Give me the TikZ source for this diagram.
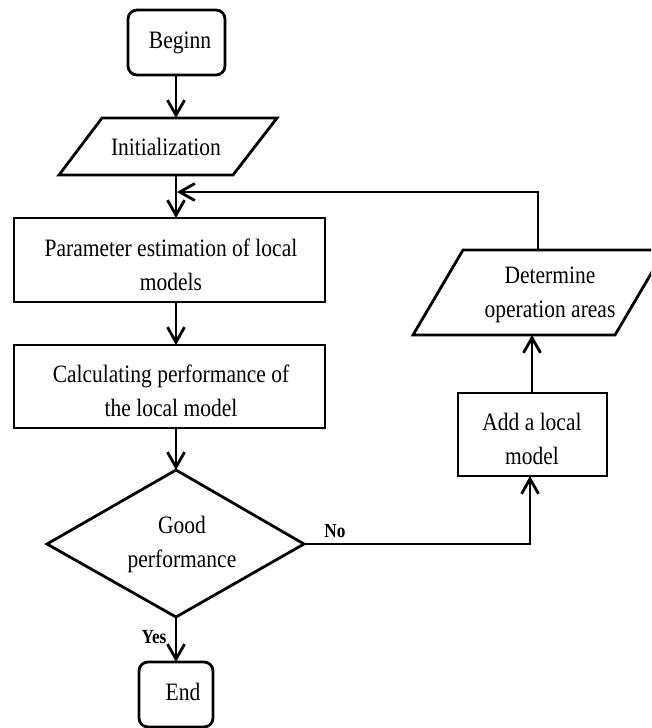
\documentclass[tikz,border=0pt]{standalone}
\usepackage{fontspec}
\setmainfont{Liberation Serif}[FakeStretch=0.86]
\usetikzlibrary{arrows.meta}
\begin{document}
\begin{tikzpicture}[x=1pt,y=-1pt,
  line width=2.8pt,
  arr/.style={-{Straight Barb[length=15pt,width=17pt,line width=2.8pt]}},
  lbl/.style={font=\fontsize{25}{34}\selectfont, align=center, inner sep=0pt},
  yn/.style={font=\fontsize{20}{24}\selectfont\bfseries, inner sep=0pt, anchor=base},
  shp/.style={draw, line width=2.8pt, line join=miter}]
\useasboundingbox (0,0) rectangle (651,728);
\clip (0,0) rectangle (651,728);
% Begin
\draw[shp, rounded corners=9pt] (128,10) rectangle (225,75);
\node[lbl] (begin) at (180,43) {Beginn};
\coordinate (beginS) at (176,75);
% Initialization
\draw[shp] (102,118) -- (277,118) -- (233,175) -- (59,175) -- cycle;
\node[lbl] (init) at (166,147) {Initialization};
\coordinate (initN) at (176,118);
\coordinate (initS) at (176,175);
% Parameter estimation
\draw[shp] (14,218) rectangle (325,302);
\node[lbl] (param) at (171,265) {Parameter estimation of local\\models};
\coordinate (paramN) at (176,218);
\coordinate (paramS) at (176,302);
% Calculating
\draw[shp] (14,345) rectangle (325,428);
\node[lbl] (calc) at (171,391) {Calculating performance of\\the local model};
\coordinate (calcN) at (176,345);
\coordinate (calcS) at (176,428);
% Decision
\draw[shp] (176,470) -- (304,544) -- (176,617) -- (47,544) -- cycle;
\node[lbl] (dec) at (182,544) {Good\\performance};
\coordinate (decN) at (176,470);
\coordinate (decE) at (304,544);
\coordinate (decS) at (176,617);
% End
\draw[shp, rounded corners=9pt] (139,662) rectangle (213,727);
\node[lbl] (end) at (183,692) {End};
\coordinate (endN) at (176,662);
% Add a local model
\draw[shp] (458,393) rectangle (607,476);
\node[lbl] (add) at (532,439) {Add a local\\model};
\coordinate (addN) at (532,393);
\coordinate (addS) at (530,476);
\coordinate (noC) at (530,544);
% Determine operation areas
\draw[shp] (463,250) -- (665,250) -- (615,335) -- (413,335) -- cycle;
\node[lbl] (det) at (550,295) {Determine\\operation areas};
\coordinate (detN) at (538,250);
\coordinate (detS) at (532,335);
\coordinate (fbC) at (538,192);
\coordinate (fbT) at (177,192);
% connectors
\draw[arr] (beginS) -- (initN);
\draw[arr] (initS) -- (paramN);
\draw[arr] (paramS) -- (calcN);
\draw[arr] (calcS) -- (decN);
\draw[arr] (decS) -- (endN);
\draw[arr] (decE) -- (noC) -- (addS);
\draw[arr] (addN) -- (detS);
\draw[arr] (detN) -- (fbC) -- (fbT);
\node[yn] (no) at (335,537) {No};
\node[yn] (yes) at (154,643) {Yes};
\end{tikzpicture}
\end{document}
